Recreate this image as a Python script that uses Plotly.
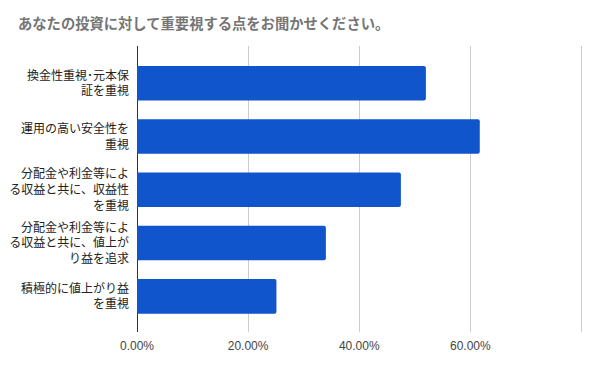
import plotly.graph_objects as go

title_text = "あなたの投資に対して重要視する点をお聞かせください。"
categories = [
    "換金性重視･元本保<br>証を重視",
    "運用の高い安全性を<br>重視",
    "分配金や利金等によ<br>る収益と共に、収益性<br>を重視",
    "分配金や利金等によ<br>る収益と共に、値上が<br>り益を追求",
    "積極的に値上がり益<br>を重視",
]
values = [0.520, 0.617, 0.475, 0.340, 0.251]
tick_vals = [0.0, 0.2, 0.4, 0.6, 0.8]
tick_text = ["0.00%", "20.00%", "40.00%", "60.00%", ""]

FONT = "Noto Sans CJK JP, Arial, sans-serif"

# page body has an 8px default margin, so the figure is drawn at (8, 8)
W, H = 592, 363

fig = go.Figure(
    go.Bar(
        x=values,
        y=categories,
        orientation="h",
        marker=dict(color="#1155cc", line=dict(width=0), cornerradius=2),
        width=0.65,
        hoverinfo="x+y",
    )
)

fig.update_layout(
    width=W,
    height=H,
    margin=dict(l=129, r=13, t=38, b=39),
    paper_bgcolor="white",
    plot_bgcolor="white",
    showlegend=False,
    title=dict(
        text=title_text,
        x=10 / W,
        xref="container",
        xanchor="left",
        y=1 - 16 / H,
        yref="container",
        yanchor="middle",
        pad=dict(l=0, r=0, t=0, b=0),
        font=dict(family=FONT, size=14.3, color="#757575", weight="bold"),
    ),
    font=dict(family=FONT),
)

fig.update_xaxes(
    range=[0, 0.81],
    tickvals=tick_vals,
    ticktext=tick_text,
    showgrid=True,
    gridcolor="#cccccc",
    gridwidth=1,
    zeroline=True,
    zerolinecolor="#333333",
    zerolinewidth=1,
    showline=False,
    ticks="",
    automargin=False,
    tickfont=dict(family="Arial, Liberation Sans, sans-serif", size=12, color="#444444"),
    ticklabelstandoff=5,
)

fig.update_yaxes(
    type="category",
    range=[4.67, -0.70],
    showgrid=False,
    zeroline=False,
    showline=False,
    ticks="",
    automargin=False,
    tickfont=dict(family=FONT, size=12, color="#222222"),
    ticklabelstandoff=7,
)

fig.write_html("out.html")
